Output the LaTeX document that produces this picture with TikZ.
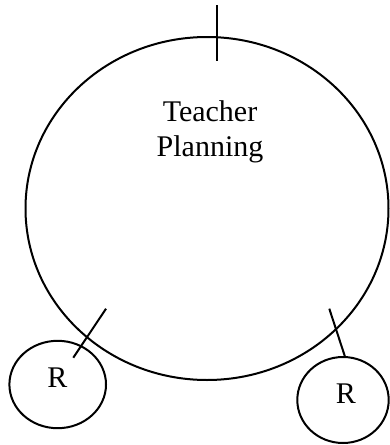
\documentclass[tikz,border=0pt]{standalone}
\usepackage{fontspec}
\setmainfont{Liberation Serif}
\usetikzlibrary{shapes.geometric}
\begin{document}
\begin{tikzpicture}[x=1pt,y=-1pt,
  outline/.style={draw=black,line width=2pt},
  lbl/.style={font=\fontsize{30}{34.3}\selectfont,inner sep=0pt,align=center}]
\useasboundingbox[fill=white] (0,0) rectangle (389,445);
\draw[outline] (207,208.5) ellipse [x radius=181.5, y radius=171.5];
\draw[outline] (57.7,384.5) ellipse [x radius=48.3, y radius=43.7];
\draw[outline] (343,400) ellipse [x radius=45.7, y radius=43];
\coordinate (t1) at (217.3,5);
\coordinate (t2) at (217.3,60.7);
\coordinate (l1) at (106,308.7);
\coordinate (l2) at (73.3,357.7);
\coordinate (r1) at (329.3,308.7);
\coordinate (r2) at (345,356.7);
\draw[outline] (t1) -- (t2);
\draw[outline] (l1) -- (l2);
\draw[outline] (r1) -- (r2);
\node[lbl,anchor=base] (tp) at (210,156) {Teacher\\Planning};
\node[lbl,anchor=base] (rl) at (57.5,387.3) {R};
\node[lbl,anchor=base] (rr) at (346,403.3) {R};
\end{tikzpicture}
\end{document}
